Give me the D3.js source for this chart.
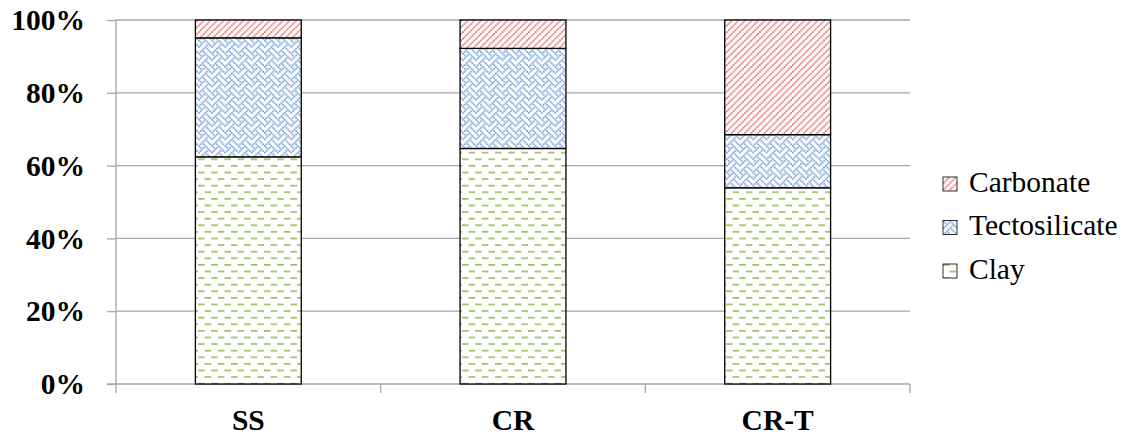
<!DOCTYPE html>
<html>
<head>
<meta charset="utf-8">
<script src="https://cdn.jsdelivr.net/npm/d3@7"></script>
<style>
  html, body { margin: 0; padding: 0; background: #fff; }
  svg { display: block; }
  #chart text { font-family: "Liberation Serif", serif; }
</style>
</head>
<body>
<svg id="chart" width="1139" height="440" font-family="Liberation Serif"></svg>
<script>
// Mineral composition per sample (percent of total)
const samples = ["SS", "CR", "CR-T"];
const clay = [62.4, 64.7, 53.9];
const tectosilicate = [32.7, 27.5, 14.6];
const carbonate = [4.9, 7.8, 31.5];
const seriesNames = ["Clay", "Tectosilicate", "Carbonate"];
const yTicks = [0, 20, 40, 60, 80, 100];
const yTickLabels = ["0%", "20%", "40%", "60%", "80%", "100%"];

const FONT = "Liberation Serif";

const svg = d3.select("#chart");
const margin = { left: 116, right: 229, top: 20, bottom: 56 };
const W = 1139, H = 440;
const plotW = W - margin.left - margin.right;
const plotH = H - margin.top - margin.bottom;

const x = d3.scaleBand().domain(samples).range([margin.left, margin.left + plotW])
  .paddingInner(0.6).paddingOuter(0.3);
const xCat = d3.scaleBand().domain(samples).range([margin.left, margin.left + plotW]);
const y = d3.scaleLinear().domain([0, 100]).range([margin.top + plotH, margin.top]);

// Fill patterns (8x8 bitmaps scaled up), each drawn as a single path
const defs = svg.append("defs");
const cell = 1.65;
function bitmapPattern(id, rows, color) {
  const p = defs.append("pattern").attr("id", id)
    .attr("patternUnits", "userSpaceOnUse")
    .attr("width", 8 * cell).attr("height", 8 * cell);
  p.append("rect").attr("width", 8 * cell).attr("height", 8 * cell).attr("fill", "#fff");
  const path = d3.path();
  rows.forEach((bits, r) => {
    for (let c = 0; c < 8; c++) {
      if (bits & (0x80 >> c)) path.rect(c * cell, r * cell, cell, cell);
    }
  });
  p.append("path").attr("d", path.toString()).attr("fill", color);
}
bitmapPattern("pat-carbonate", [0x11, 0x22, 0x44, 0x88, 0x11, 0x22, 0x44, 0x88], "#e06a6a");
bitmapPattern("pat-tecto", [0x88, 0x54, 0x22, 0x45, 0x88, 0x14, 0x22, 0x51], "#6e9ad6");
bitmapPattern("pat-clay", [0xf0, 0x00, 0x00, 0x00, 0x0f, 0x00, 0x00, 0x00], "#9cc05c");

const fills = { Clay: "url(#pat-clay)", Tectosilicate: "url(#pat-tecto)", Carbonate: "url(#pat-carbonate)" };

// Gridlines
const gridColor = "#a6a6a6";
svg.append("g").selectAll("line").data(yTicks.slice(1)).join("line")
  .attr("x1", margin.left).attr("x2", margin.left + plotW)
  .attr("y1", d => y(d)).attr("y2", d => y(d))
  .attr("stroke", gridColor).attr("stroke-width", 1.3);

// Y axis
const yAxis = svg.append("g").attr("transform", `translate(${margin.left},0)`)
  .call(d3.axisLeft(y).tickValues(yTicks).tickSize(9).tickFormat((d, i) => yTickLabels[i]));
yAxis.attr("font-family", FONT).attr("font-size", 29.5);
yAxis.select(".domain").attr("stroke", gridColor).attr("stroke-width", 1.3).attr("d", `M0,${y(0)}V${y(100)}`);
yAxis.selectAll(".tick line").attr("stroke", gridColor).attr("stroke-width", 1.3);
yAxis.selectAll(".tick text")
  .attr("x", -31).attr("dy", "0.33em")
  .attr("font-family", FONT)
  .attr("font-weight", "bold").attr("font-size", 29.5).attr("fill", "#000");

// X axis with boundary ticks between categories
const xAxisG = svg.append("g").attr("transform", `translate(0,${y(0)})`);
xAxisG.append("line").attr("x1", margin.left - 9).attr("x2", margin.left + plotW)
  .attr("stroke", gridColor).attr("stroke-width", 1.3);
const bounds = samples.map(s => xCat(s)).concat([xCat(samples[samples.length - 1]) + xCat.bandwidth()]);
xAxisG.selectAll("line.bt").data(bounds).join("line").attr("class", "bt")
  .attr("x1", d => d).attr("x2", d => d).attr("y1", 0).attr("y2", 9)
  .attr("stroke", gridColor).attr("stroke-width", 1.3);
xAxisG.selectAll("text").data(samples).join("text")
  .attr("x", d => xCat(d) + xCat.bandwidth() / 2).attr("y", 46)
  .attr("text-anchor", "middle")
  .attr("font-family", FONT)
  .attr("font-weight", "bold").attr("font-size", 29.5).text(d => d);

// Stacked bars
const rows = samples.map((s, i) => ({ sample: s, Clay: clay[i], Tectosilicate: tectosilicate[i], Carbonate: carbonate[i] }));
const stacked = d3.stack().keys(seriesNames)(rows);
svg.append("g").selectAll("g").data(stacked).join("g")
  .attr("fill", d => fills[d.key])
  .selectAll("rect").data(d => d).join("rect")
  .attr("x", d => x(d.data.sample))
  .attr("width", x.bandwidth())
  .attr("y", d => y(d[1]))
  .attr("height", d => y(d[0]) - y(d[1]))
  .attr("stroke", "#000").attr("stroke-width", 1.3);

// Legend (top entry = top of stack)
const legendItems = seriesNames.slice().reverse();
const legend = svg.append("g").attr("transform", "translate(943,177)");
const lg = legend.selectAll("g").data(legendItems).join("g")
  .attr("transform", (d, i) => `translate(0,${i * 43.5})`);
lg.append("rect").attr("width", 14).attr("height", 14)
  .attr("fill", d => fills[d]).attr("stroke", "#000").attr("stroke-width", 0.8);
lg.append("text").attr("x", 26).attr("y", 14.5)
  .attr("font-family", FONT)
  .attr("font-size", 29.5).attr("fill", "#000").text(d => d);
</script>
</body>
</html>
